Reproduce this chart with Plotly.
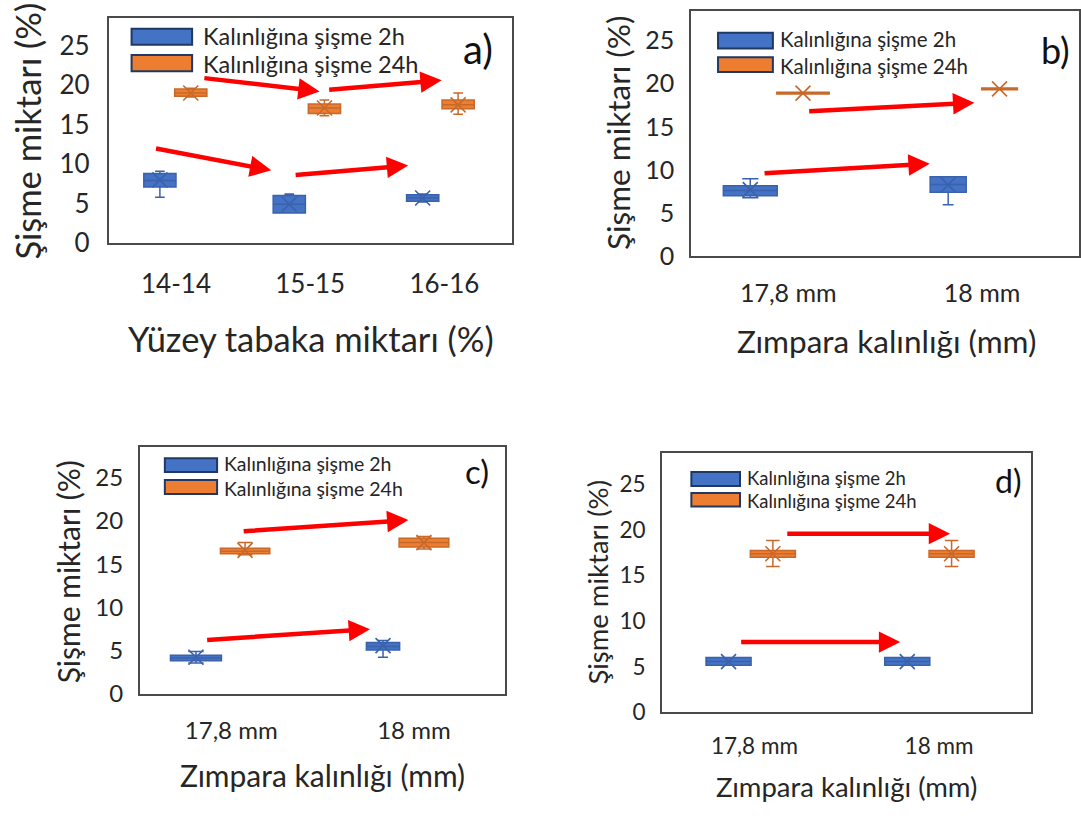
import plotly.graph_objects as go

W_PX, H_PX = 1081, 821
FONT = "Lato"
TEXT_COLOR = "#262626"

SERIES = ["Kalınlığına şişme 2h", "Kalınlığına şişme 24h"]
Y_TITLE = "Şişme miktarı (%)"
Y_TICKS = [0, 5, 10, 15, 20, 25]

# ---- panel a: surface layer ratio ----
a_categories = ["14-14", "15-15", "16-16"]
a_2h_low = [5.8, 3.8, 5.2]
a_2h_q1 = [7.1, 3.8, 5.3]
a_2h_med = [7.9, 4.9, 5.7]
a_2h_q3 = [8.8, 6.0, 6.1]
a_2h_high = [9.1, 6.2, 6.2]
a_2h_mean = [8.0, 4.9, 5.7]
a_24h_low = [18.5, 16.1, 16.3]
a_24h_q1 = [18.6, 16.4, 17.0]
a_24h_med = [19.0, 17.1, 17.5]
a_24h_q3 = [19.5, 17.6, 18.1]
a_24h_high = [19.6, 18.1, 19.0]
a_24h_mean = [19.0, 17.1, 17.5]
a_trends = [(0.20, 20.9, 1.07, 19.2), (1.13, 19.4, 1.98, 20.6),
            (-0.16, 12.0, 0.71, 9.2), (0.88, 8.6, 1.73, 9.8)]

# ---- panel b: sanding thickness ----
b_categories = ["17,8 mm", "18 mm"]
b_2h_low = [6.75, 5.95]
b_2h_q1 = [7.0, 7.4]
b_2h_med = [7.6, 8.3]
b_2h_q3 = [8.15, 9.2]
b_2h_high = [8.95, 9.2]
b_2h_mean = [7.7, 8.25]
b_24h_low = [18.8, 19.3]
b_24h_q1 = [18.8, 19.3]
b_24h_med = [18.9, 19.4]
b_24h_q3 = [19.0, 19.5]
b_24h_high = [19.0, 19.5]
b_24h_mean = [18.9, 19.4]
b_trends = [(0.10, 16.8, 0.96, 17.8), (-0.13, 9.6, 0.73, 10.7)]

# ---- panel c ----
c_categories = ["17,8 mm", "18 mm"]
c_2h_low = [3.6, 4.25]
c_2h_q1 = [3.86, 5.1]
c_2h_med = [4.17, 5.5]
c_2h_q3 = [4.48, 5.95]
c_2h_high = [4.93, 6.2]
c_2h_mean = [4.25, 5.6]
c_24h_low = [16.1, 16.75]
c_24h_q1 = [16.2, 17.0]
c_24h_med = [16.5, 17.5]
c_24h_q3 = [16.86, 18.0]
c_24h_high = [17.5, 18.2]
c_24h_mean = [16.6, 17.5]
c_trends = [(0.06, 18.8, 0.97, 20.1), (-0.14, 6.25, 0.76, 7.5)]

# ---- panel d ----
d_categories = ["17,8 mm", "18 mm"]
d_2h_low = [5.15, 5.15]
d_2h_q1 = [5.15, 5.15]
d_2h_med = [5.56, 5.56]
d_2h_q3 = [6.0, 6.0]
d_2h_high = [6.0, 6.0]
d_2h_mean = [5.56, 5.56]
d_24h_low = [16.0, 16.0]
d_24h_q1 = [17.0, 17.0]
d_24h_med = [17.4, 17.4]
d_24h_q3 = [17.75, 17.75]
d_24h_high = [18.85, 18.85]
d_24h_mean = [17.4, 17.4]
d_trends = [(0.17, 19.6, 1.06, 19.6), (-0.08, 7.7, 0.79, 7.7)]

# series styling
FILL = ["#4472C4", "#ED7D31"]
EDGE = ["#3A62AC", "#C8692A"]
SWATCH_EDGE = "#1F3864"

panels = [
    dict(tag="a)", cats=a_categories, x_title="Yüzey tabaka miktarı (%)",
         stats=[(a_2h_low, a_2h_q1, a_2h_med, a_2h_q3, a_2h_high, a_2h_mean),
                (a_24h_low, a_24h_q1, a_24h_med, a_24h_q3, a_24h_high, a_24h_mean)],
         trends=a_trends,
         frame=(109, 512, 18.3, 247.5),
         offsets=[[-0.12, -0.156, -0.162], [0.11, 0.106, 0.102]],
         widths=[[0.24, 0.24, 0.24], [0.24, 0.24, 0.24]],
         tick_font=26, title_font=34.5, legend_font=23.5, tag_font=40,
         y_title_at=(28, 133), x_title_at=(311, 345),
         swatch_x=(131.7, 192.3), swatch_y=[(29.3, 45.7), (56, 72.7)], text_x=201,
         text_nudge=1, tag_at=(478, 50), y_standoff=12, x_standoff=17),
    dict(tag="b)", cats=b_categories, x_title="Zımpara kalınlığı (mm)",
         stats=[(b_2h_low, b_2h_q1, b_2h_med, b_2h_q3, b_2h_high, b_2h_mean),
                (b_24h_low, b_24h_q1, b_24h_med, b_24h_q3, b_24h_high, b_24h_mean)],
         trends=b_trends,
         frame=(692, 1080, 10.7, 260.7),
         offsets=[[-0.196, -0.175], [0.076, 0.09]],
         widths=[[0.278, 0.186], [0.27, 0.184]],
         tick_font=25, title_font=31.5, legend_font=20.5, tag_font=36,
         y_title_at=(618, 135), x_title_at=(887, 347),
         swatch_x=(718.7, 773.6), swatch_y=[(33.3, 49.3), (58.3, 73.3)], text_x=779,
         text_nudge=1.5, tag_at=(1056, 51), y_standoff=10, x_standoff=14),
    dict(tag="c)", cats=c_categories, x_title="Zımpara kalınlığı (mm)",
         stats=[(c_2h_low, c_2h_q1, c_2h_med, c_2h_q3, c_2h_high, c_2h_mean),
                (c_24h_low, c_24h_q1, c_24h_med, c_24h_q3, c_24h_high, c_24h_mean)],
         trends=c_trends,
         frame=(140, 505.7, 455.7, 707),
         offsets=[[-0.193, -0.169], [0.076, 0.055]],
         widths=[[0.279, 0.182], [0.27, 0.272]],
         tick_font=24, title_font=30, legend_font=19.5, tag_font=33,
         y_title_at=(68, 582), x_title_at=(322.5, 789),
         swatch_x=(165, 217.3), swatch_y=[(466.7, 480.7), (489, 503.3)], text_x=222.7,
         text_nudge=1.5, tag_at=(477, 480), y_standoff=10, x_standoff=14),
    dict(tag="d)", cats=d_categories, x_title="Zımpara kalınlığı (mm)",
         stats=[(d_2h_low, d_2h_q1, d_2h_med, d_2h_q3, d_2h_high, d_2h_mean),
                (d_24h_low, d_24h_q1, d_24h_med, d_24h_q3, d_24h_high, d_24h_mean)],
         trends=d_trends,
         frame=(662.7, 1032.3, 461, 725.5),
         offsets=[[-0.14, -0.172], [0.1, 0.068]],
         widths=[[0.244, 0.244], [0.244, 0.244]],
         tick_font=22.5, title_font=27.5, legend_font=18.5, tag_font=32,
         y_title_at=(598, 593), x_title_at=(847, 801),
         swatch_x=(692, 740.7), swatch_y=[(480.7, 495), (502.3, 516)], text_x=745.7,
         text_nudge=1, tag_at=(1009, 489), y_standoff=10, x_standoff=13),
]


def px_x(px):
    return px / W_PX


def px_y(py):
    return 1 - py / H_PX


fig = go.Figure()
annotations = []
shapes = []
layout_axes = {}

for k, p in enumerate(panels):
    n = k + 1
    xa = "x" if n == 1 else f"x{n}"
    ya = "y" if n == 1 else f"y{n}"
    xkey = "xaxis" if n == 1 else f"xaxis{n}"
    ykey = "yaxis" if n == 1 else f"yaxis{n}"
    L, R, T, B = p["frame"]
    cats = p["cats"]

    for s in range(2):
        low, q1, med, q3, high, mean = p["stats"][s]
        for i in range(len(cats)):
            pos = i + p["offsets"][s][i]
            fig.add_trace(go.Box(
                x=[pos], lowerfence=[low[i]], q1=[q1[i]], median=[med[i]],
                q3=[q3[i]], upperfence=[high[i]],
                width=p["widths"][s][i], whiskerwidth=0.3,
                fillcolor=FILL[s], line=dict(color=EDGE[s], width=1.5),
                boxpoints=False, showlegend=False, hoverinfo="skip",
                xaxis=xa, yaxis=ya, name=SERIES[s]))
        # mean markers
        fig.add_trace(go.Scatter(
            x=[i + p["offsets"][s][i] for i in range(len(cats))], y=mean,
            mode="markers", showlegend=False, hoverinfo="skip",
            marker=dict(symbol="x-thin", size=15,
                        line=dict(color=EDGE[s], width=1.6)),
            xaxis=xa, yaxis=ya))

    layout_axes[xkey] = dict(
        domain=[px_x(L), px_x(R)], range=[-0.5, len(cats) - 0.5],
        anchor=ya, tickmode="array", tickvals=list(range(len(cats))), ticktext=cats,
        showgrid=False, zeroline=False, ticks="",
        showline=True, mirror=True, linecolor="#4a4a4a", linewidth=2,
        tickfont=dict(family=FONT, size=p["tick_font"], color=TEXT_COLOR),
        ticklabelstandoff=p["x_standoff"], fixedrange=True)
    layout_axes[ykey] = dict(
        domain=[px_y(B), px_y(T)], range=[0, 28.5], anchor=xa,
        tickmode="array", tickvals=Y_TICKS, showgrid=False, zeroline=False, ticks="",
        showline=True, mirror=True, linecolor="#4a4a4a", linewidth=2,
        tickfont=dict(family=FONT, size=p["tick_font"], color=TEXT_COLOR),
        ticklabelstandoff=p["y_standoff"], fixedrange=True)

    # trend arrows
    for (x0, y0, x1, y1) in p["trends"]:
        annotations.append(dict(
            x=x1, y=y1, ax=x0, ay=y0, xref=xa, yref=ya, axref=xa, ayref=ya,
            text="", showarrow=True, arrowhead=2, arrowsize=0.95, arrowwidth=4.5,
            arrowcolor="#FF0000", standoff=0, startstandoff=0))

    # axis titles
    annotations.append(dict(
        x=px_x(p["y_title_at"][0]), y=px_y(p["y_title_at"][1]), xref="paper", yref="paper",
        text=Y_TITLE, textangle=-90, showarrow=False, xanchor="center", yanchor="middle",
        font=dict(family=FONT, size=p["title_font"], color=TEXT_COLOR)))
    annotations.append(dict(
        x=px_x(p["x_title_at"][0]), y=px_y(p["x_title_at"][1]), xref="paper", yref="paper",
        text=p["x_title"], showarrow=False, xanchor="center", yanchor="middle",
        font=dict(family=FONT, size=p["title_font"], color=TEXT_COLOR)))

    # panel tag
    annotations.append(dict(
        x=px_x(p["tag_at"][0]), y=px_y(p["tag_at"][1]), xref="paper", yref="paper",
        text=p["tag"], showarrow=False, xanchor="center", yanchor="middle",
        font=dict(family=FONT, size=p["tag_font"], color="#111111")))

    # legend block
    sx0, sx1 = p["swatch_x"]
    for s in range(2):
        sy0, sy1 = p["swatch_y"][s]
        shapes.append(dict(
            type="rect", xref="paper", yref="paper",
            x0=px_x(sx0), x1=px_x(sx1), y0=px_y(sy1), y1=px_y(sy0),
            fillcolor=FILL[s], line=dict(color=SWATCH_EDGE, width=2)))
        nudge = p["text_nudge"] * (1 if s else -1)
        annotations.append(dict(
            x=px_x(p["text_x"]), y=px_y((sy0 + sy1) / 2 + nudge), xref="paper", yref="paper",
            text=SERIES[s], showarrow=False, xanchor="left", yanchor="middle",
            font=dict(family=FONT, size=p["legend_font"], color=TEXT_COLOR)))

fig.update_layout(
    width=W_PX, height=H_PX, margin=dict(l=0, r=0, t=0, b=0),
    paper_bgcolor="white", plot_bgcolor="white",
    showlegend=False, boxmode="overlay",
    annotations=annotations, shapes=shapes, **layout_axes)

fig.write_html("out.html", config={"displayModeBar": False})
